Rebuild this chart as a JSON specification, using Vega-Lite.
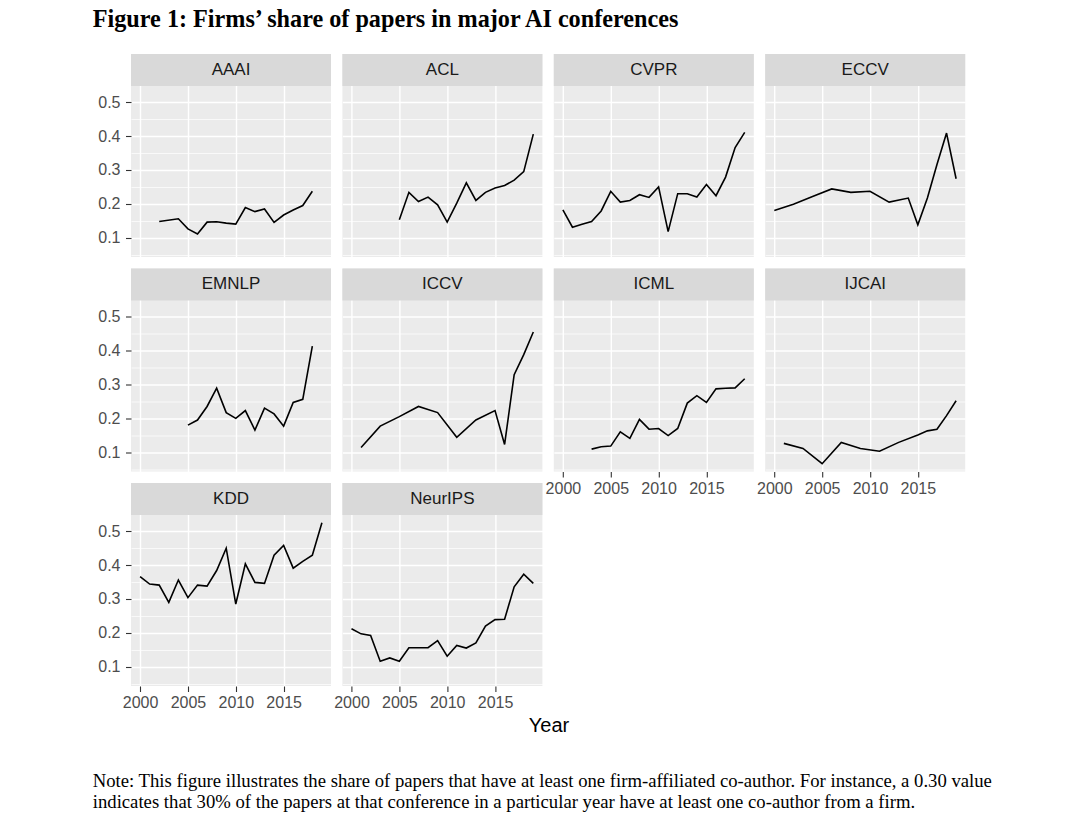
{
  "$schema": "https://vega.github.io/schema/vega-lite/v6.json",
  "autosize": {"type": "pad"},
  "padding": {"left": 92, "top": 7, "right": 5, "bottom": 5},
  "background": "#FFFFFF",
  "config": {
    "view": {"stroke": null, "fill": "#EBEBEB"}
  },
  "data": {"values": [
    {"conf":"AAAI","year":2002,"share":0.148},{"conf":"AAAI","year":2004,"share":0.156},{"conf":"AAAI","year":2005,"share":0.126},{"conf":"AAAI","year":2006,"share":0.111},{"conf":"AAAI","year":2007,"share":0.146},{"conf":"AAAI","year":2008,"share":0.147},{"conf":"AAAI","year":2009,"share":0.143},{"conf":"AAAI","year":2010,"share":0.140},{"conf":"AAAI","year":2011,"share":0.189},{"conf":"AAAI","year":2012,"share":0.177},{"conf":"AAAI","year":2013,"share":0.185},{"conf":"AAAI","year":2014,"share":0.145},{"conf":"AAAI","year":2015,"share":0.167},{"conf":"AAAI","year":2016,"share":0.182},{"conf":"AAAI","year":2017,"share":0.195},{"conf":"AAAI","year":2018,"share":0.237},
    {"conf":"ACL","year":2005,"share":0.153},{"conf":"ACL","year":2006,"share":0.234},{"conf":"ACL","year":2007,"share":0.207},{"conf":"ACL","year":2008,"share":0.220},{"conf":"ACL","year":2009,"share":0.197},{"conf":"ACL","year":2010,"share":0.146},{"conf":"ACL","year":2011,"share":0.202},{"conf":"ACL","year":2012,"share":0.262},{"conf":"ACL","year":2013,"share":0.210},{"conf":"ACL","year":2014,"share":0.234},{"conf":"ACL","year":2015,"share":0.247},{"conf":"ACL","year":2016,"share":0.254},{"conf":"ACL","year":2017,"share":0.270},{"conf":"ACL","year":2018,"share":0.295},{"conf":"ACL","year":2019,"share":0.406},
    {"conf":"CVPR","year":2000,"share":0.182},{"conf":"CVPR","year":2001,"share":0.131},{"conf":"CVPR","year":2002,"share":0.140},{"conf":"CVPR","year":2003,"share":0.148},{"conf":"CVPR","year":2004,"share":0.179},{"conf":"CVPR","year":2005,"share":0.237},{"conf":"CVPR","year":2006,"share":0.205},{"conf":"CVPR","year":2007,"share":0.210},{"conf":"CVPR","year":2008,"share":0.227},{"conf":"CVPR","year":2009,"share":0.219},{"conf":"CVPR","year":2010,"share":0.250},{"conf":"CVPR","year":2011,"share":0.118},{"conf":"CVPR","year":2012,"share":0.230},{"conf":"CVPR","year":2013,"share":0.230},{"conf":"CVPR","year":2014,"share":0.220},{"conf":"CVPR","year":2015,"share":0.257},{"conf":"CVPR","year":2016,"share":0.224},{"conf":"CVPR","year":2017,"share":0.279},{"conf":"CVPR","year":2018,"share":0.366},{"conf":"CVPR","year":2019,"share":0.411},
    {"conf":"ECCV","year":2000,"share":0.180},{"conf":"ECCV","year":2002,"share":0.199},{"conf":"ECCV","year":2004,"share":0.222},{"conf":"ECCV","year":2006,"share":0.244},{"conf":"ECCV","year":2008,"share":0.234},{"conf":"ECCV","year":2010,"share":0.237},{"conf":"ECCV","year":2012,"share":0.205},{"conf":"ECCV","year":2014,"share":0.217},{"conf":"ECCV","year":2015,"share":0.138},{"conf":"ECCV","year":2016,"share":0.217},{"conf":"ECCV","year":2017,"share":0.316},{"conf":"ECCV","year":2018,"share":0.409},{"conf":"ECCV","year":2019,"share":0.274},
    {"conf":"EMNLP","year":2005,"share":0.180},{"conf":"EMNLP","year":2006,"share":0.195},{"conf":"EMNLP","year":2007,"share":0.235},{"conf":"EMNLP","year":2008,"share":0.289},{"conf":"EMNLP","year":2009,"share":0.217},{"conf":"EMNLP","year":2010,"share":0.200},{"conf":"EMNLP","year":2011,"share":0.223},{"conf":"EMNLP","year":2012,"share":0.165},{"conf":"EMNLP","year":2013,"share":0.230},{"conf":"EMNLP","year":2014,"share":0.213},{"conf":"EMNLP","year":2015,"share":0.177},{"conf":"EMNLP","year":2016,"share":0.247},{"conf":"EMNLP","year":2017,"share":0.256},{"conf":"EMNLP","year":2018,"share":0.413},
    {"conf":"ICCV","year":2001,"share":0.114},{"conf":"ICCV","year":2003,"share":0.177},{"conf":"ICCV","year":2005,"share":0.205},{"conf":"ICCV","year":2007,"share":0.235},{"conf":"ICCV","year":2009,"share":0.217},{"conf":"ICCV","year":2011,"share":0.144},{"conf":"ICCV","year":2013,"share":0.195},{"conf":"ICCV","year":2015,"share":0.223},{"conf":"ICCV","year":2016,"share":0.123},{"conf":"ICCV","year":2017,"share":0.329},{"conf":"ICCV","year":2018,"share":0.388},{"conf":"ICCV","year":2019,"share":0.455},
    {"conf":"ICML","year":2003,"share":0.109},{"conf":"ICML","year":2004,"share":0.116},{"conf":"ICML","year":2005,"share":0.118},{"conf":"ICML","year":2006,"share":0.160},{"conf":"ICML","year":2007,"share":0.141},{"conf":"ICML","year":2008,"share":0.197},{"conf":"ICML","year":2009,"share":0.168},{"conf":"ICML","year":2010,"share":0.170},{"conf":"ICML","year":2011,"share":0.149},{"conf":"ICML","year":2012,"share":0.170},{"conf":"ICML","year":2013,"share":0.245},{"conf":"ICML","year":2014,"share":0.267},{"conf":"ICML","year":2015,"share":0.247},{"conf":"ICML","year":2016,"share":0.287},{"conf":"ICML","year":2017,"share":0.289},{"conf":"ICML","year":2018,"share":0.290},{"conf":"ICML","year":2019,"share":0.317},
    {"conf":"IJCAI","year":2001,"share":0.126},{"conf":"IJCAI","year":2003,"share":0.111},{"conf":"IJCAI","year":2005,"share":0.066},{"conf":"IJCAI","year":2007,"share":0.129},{"conf":"IJCAI","year":2009,"share":0.111},{"conf":"IJCAI","year":2011,"share":0.103},{"conf":"IJCAI","year":2013,"share":0.129},{"conf":"IJCAI","year":2015,"share":0.151},{"conf":"IJCAI","year":2016,"share":0.163},{"conf":"IJCAI","year":2017,"share":0.168},{"conf":"IJCAI","year":2018,"share":0.208},{"conf":"IJCAI","year":2019,"share":0.252},
    {"conf":"KDD","year":2000,"share":0.366},{"conf":"KDD","year":2001,"share":0.344},{"conf":"KDD","year":2002,"share":0.341},{"conf":"KDD","year":2003,"share":0.290},{"conf":"KDD","year":2004,"share":0.356},{"conf":"KDD","year":2005,"share":0.304},{"conf":"KDD","year":2006,"share":0.341},{"conf":"KDD","year":2007,"share":0.338},{"conf":"KDD","year":2008,"share":0.384},{"conf":"KDD","year":2009,"share":0.450},{"conf":"KDD","year":2010,"share":0.285},{"conf":"KDD","year":2011,"share":0.404},{"conf":"KDD","year":2012,"share":0.349},{"conf":"KDD","year":2013,"share":0.346},{"conf":"KDD","year":2014,"share":0.429},{"conf":"KDD","year":2015,"share":0.458},{"conf":"KDD","year":2016,"share":0.391},{"conf":"KDD","year":2017,"share":0.411},{"conf":"KDD","year":2018,"share":0.429},{"conf":"KDD","year":2019,"share":0.525},
    {"conf":"NeurIPS","year":2000,"share":0.212},{"conf":"NeurIPS","year":2001,"share":0.197},{"conf":"NeurIPS","year":2002,"share":0.192},{"conf":"NeurIPS","year":2003,"share":0.116},{"conf":"NeurIPS","year":2004,"share":0.126},{"conf":"NeurIPS","year":2005,"share":0.116},{"conf":"NeurIPS","year":2006,"share":0.156},{"conf":"NeurIPS","year":2007,"share":0.156},{"conf":"NeurIPS","year":2008,"share":0.156},{"conf":"NeurIPS","year":2009,"share":0.177},{"conf":"NeurIPS","year":2010,"share":0.131},{"conf":"NeurIPS","year":2011,"share":0.163},{"conf":"NeurIPS","year":2012,"share":0.155},{"conf":"NeurIPS","year":2013,"share":0.170},{"conf":"NeurIPS","year":2014,"share":0.220},{"conf":"NeurIPS","year":2015,"share":0.239},{"conf":"NeurIPS","year":2016,"share":0.240},{"conf":"NeurIPS","year":2017,"share":0.336},{"conf":"NeurIPS","year":2018,"share":0.373},{"conf":"NeurIPS","year":2019,"share":0.346}
  ]},
  "title": {"text": "Figure 1: Firms’ share of papers in major AI conferences", "anchor": "start", "frame": "bounds", "font": "Liberation Serif", "fontSize": 24.2, "fontWeight": "bold", "color": "#000000", "offset": 22},
  "vconcat": [
    {
      "title": {"text": ["Note: This figure illustrates the share of papers that have at least one firm-affiliated co-author. For instance, a 0.30 value", "indicates that 30% of the papers at that conference in a particular year have at least one co-author from a firm."], "orient": "bottom", "anchor": "start", "frame": "bounds", "font": "Liberation Serif", "fontSize": 18.7, "fontWeight": "normal", "color": "#000000", "lineHeight": 21, "offset": 36, "dx": -5},
      "vconcat": [
        {
          "title": {"text": "Year", "orient": "bottom", "anchor": "middle", "frame": "bounds", "font": "Liberation Sans", "fontSize": 20, "fontWeight": "normal", "color": "#000000", "offset": 5, "dx": 17.5},
          "columns": 4,
          "spacing": {"row": 11.5, "column": 11.4},
          "bounds": "flush",
          "align": "all",
          "concat": [
            {"width": 200, "height": 203, "transform": [{"filter": "datum.conf === 'AAAI'"}], "resolve": {"axis": {"y": "independent"}}, "layer": [
              {"mark": {"type": "line", "color": "#000000", "strokeWidth": 1.6}, "encoding": {
                "x": {"field": "year", "type": "quantitative", "scale": {"domain": [1999.05, 2019.95], "nice": false, "zero": false}, "axis": {"orient": "bottom", "values": [2000, 2002.5, 2005, 2007.5, 2010, 2012.5, 2015, 2017.5], "grid": true, "gridColor": "#FFFFFF", "gridWidth": {"condition": {"test": "datum.value % 5 === 0", "value": 1.4}, "value": 0.7}, "domain": false, "ticks": false, "labels": false, "title": null}},
                "y": {"field": "share", "type": "quantitative", "scale": {"domain": [0.043, 0.6425], "nice": false, "zero": false}, "axis": {"orient": "left", "values": [0.05, 0.1, 0.15, 0.2, 0.25, 0.3, 0.35, 0.4, 0.45, 0.5], "format": ".1f", "labelExpr": "indexof([0.1, 0.2, 0.3, 0.4, 0.5], datum.value) >= 0 ? datum.label : ''", "grid": true, "gridColor": "#FFFFFF", "gridWidth": {"condition": {"test": "indexof([0.1, 0.2, 0.3, 0.4, 0.5], datum.value) >= 0", "value": 1.4}, "value": 0.7}, "domain": false, "ticks": true, "tickColor": "#333333", "tickSize": 5.5, "tickWidth": 1.1, "tickOpacity": {"condition": {"test": "indexof([0.1, 0.2, 0.3, 0.4, 0.5], datum.value) >= 0", "value": 1}, "value": 0}, "labels": true, "labelFont": "Liberation Sans", "labelFontSize": 16, "labelColor": "#4D4D4D", "labelPadding": 5.5, "labelOverlap": false, "labelFlush": false, "labelBound": false, "title": null}}
              }},
              {"transform": [{"aggregate": [{"op": "count", "as": "n"}], "groupby": ["conf"]}], "mark": {"type": "rect", "fill": "#D9D9D9", "stroke": null}, "encoding": {"x": {"datum": 1999.05, "type": "quantitative"}, "x2": {"datum": 2019.95}, "y": {"datum": 0.548, "type": "quantitative", "axis": {"orient": "left", "grid": false, "labels": false, "ticks": false, "domain": false, "title": null}}, "y2": {"datum": 0.6425}}},
              {"transform": [{"aggregate": [{"op": "count", "as": "n"}], "groupby": ["conf"]}], "mark": {"type": "text", "font": "Liberation Sans", "fontSize": 17, "color": "#1A1A1A", "baseline": "middle", "align": "center"}, "encoding": {"x": {"datum": 2009.5, "type": "quantitative"}, "y": {"datum": 0.5953, "type": "quantitative", "axis": {"orient": "left", "grid": false, "labels": false, "ticks": false, "domain": false, "title": null}}, "text": {"field": "conf", "type": "nominal"}}}
            ]},
            {"width": 200, "height": 203, "transform": [{"filter": "datum.conf === 'ACL'"}], "resolve": {"axis": {"y": "independent"}}, "layer": [
              {"mark": {"type": "line", "color": "#000000", "strokeWidth": 1.6}, "encoding": {
                "x": {"field": "year", "type": "quantitative", "scale": {"domain": [1999.05, 2019.95], "nice": false, "zero": false}, "axis": {"orient": "bottom", "values": [2000, 2002.5, 2005, 2007.5, 2010, 2012.5, 2015, 2017.5], "grid": true, "gridColor": "#FFFFFF", "gridWidth": {"condition": {"test": "datum.value % 5 === 0", "value": 1.4}, "value": 0.7}, "domain": false, "ticks": false, "labels": false, "title": null}},
                "y": {"field": "share", "type": "quantitative", "scale": {"domain": [0.043, 0.6425], "nice": false, "zero": false}, "axis": {"orient": "left", "values": [0.05, 0.1, 0.15, 0.2, 0.25, 0.3, 0.35, 0.4, 0.45, 0.5], "grid": true, "gridColor": "#FFFFFF", "gridWidth": {"condition": {"test": "indexof([0.1, 0.2, 0.3, 0.4, 0.5], datum.value) >= 0", "value": 1.4}, "value": 0.7}, "domain": false, "ticks": false, "labels": false, "title": null}}
              }},
              {"transform": [{"aggregate": [{"op": "count", "as": "n"}], "groupby": ["conf"]}], "mark": {"type": "rect", "fill": "#D9D9D9", "stroke": null}, "encoding": {"x": {"datum": 1999.05, "type": "quantitative"}, "x2": {"datum": 2019.95}, "y": {"datum": 0.548, "type": "quantitative", "axis": {"orient": "left", "grid": false, "labels": false, "ticks": false, "domain": false, "title": null}}, "y2": {"datum": 0.6425}}},
              {"transform": [{"aggregate": [{"op": "count", "as": "n"}], "groupby": ["conf"]}], "mark": {"type": "text", "font": "Liberation Sans", "fontSize": 17, "color": "#1A1A1A", "baseline": "middle", "align": "center"}, "encoding": {"x": {"datum": 2009.5, "type": "quantitative"}, "y": {"datum": 0.5953, "type": "quantitative", "axis": {"orient": "left", "grid": false, "labels": false, "ticks": false, "domain": false, "title": null}}, "text": {"field": "conf", "type": "nominal"}}}
            ]},
            {"width": 200, "height": 203, "transform": [{"filter": "datum.conf === 'CVPR'"}], "resolve": {"axis": {"y": "independent"}}, "layer": [
              {"mark": {"type": "line", "color": "#000000", "strokeWidth": 1.6}, "encoding": {
                "x": {"field": "year", "type": "quantitative", "scale": {"domain": [1999.05, 2019.95], "nice": false, "zero": false}, "axis": {"orient": "bottom", "values": [2000, 2002.5, 2005, 2007.5, 2010, 2012.5, 2015, 2017.5], "grid": true, "gridColor": "#FFFFFF", "gridWidth": {"condition": {"test": "datum.value % 5 === 0", "value": 1.4}, "value": 0.7}, "domain": false, "ticks": false, "labels": false, "title": null}},
                "y": {"field": "share", "type": "quantitative", "scale": {"domain": [0.043, 0.6425], "nice": false, "zero": false}, "axis": {"orient": "left", "values": [0.05, 0.1, 0.15, 0.2, 0.25, 0.3, 0.35, 0.4, 0.45, 0.5], "grid": true, "gridColor": "#FFFFFF", "gridWidth": {"condition": {"test": "indexof([0.1, 0.2, 0.3, 0.4, 0.5], datum.value) >= 0", "value": 1.4}, "value": 0.7}, "domain": false, "ticks": false, "labels": false, "title": null}}
              }},
              {"transform": [{"aggregate": [{"op": "count", "as": "n"}], "groupby": ["conf"]}], "mark": {"type": "rect", "fill": "#D9D9D9", "stroke": null}, "encoding": {"x": {"datum": 1999.05, "type": "quantitative"}, "x2": {"datum": 2019.95}, "y": {"datum": 0.548, "type": "quantitative", "axis": {"orient": "left", "grid": false, "labels": false, "ticks": false, "domain": false, "title": null}}, "y2": {"datum": 0.6425}}},
              {"transform": [{"aggregate": [{"op": "count", "as": "n"}], "groupby": ["conf"]}], "mark": {"type": "text", "font": "Liberation Sans", "fontSize": 17, "color": "#1A1A1A", "baseline": "middle", "align": "center"}, "encoding": {"x": {"datum": 2009.5, "type": "quantitative"}, "y": {"datum": 0.5953, "type": "quantitative", "axis": {"orient": "left", "grid": false, "labels": false, "ticks": false, "domain": false, "title": null}}, "text": {"field": "conf", "type": "nominal"}}}
            ]},
            {"width": 200, "height": 203, "transform": [{"filter": "datum.conf === 'ECCV'"}], "resolve": {"axis": {"y": "independent"}}, "layer": [
              {"mark": {"type": "line", "color": "#000000", "strokeWidth": 1.6}, "encoding": {
                "x": {"field": "year", "type": "quantitative", "scale": {"domain": [1999.05, 2019.95], "nice": false, "zero": false}, "axis": {"orient": "bottom", "values": [2000, 2002.5, 2005, 2007.5, 2010, 2012.5, 2015, 2017.5], "grid": true, "gridColor": "#FFFFFF", "gridWidth": {"condition": {"test": "datum.value % 5 === 0", "value": 1.4}, "value": 0.7}, "domain": false, "ticks": false, "labels": false, "title": null}},
                "y": {"field": "share", "type": "quantitative", "scale": {"domain": [0.043, 0.6425], "nice": false, "zero": false}, "axis": {"orient": "left", "values": [0.05, 0.1, 0.15, 0.2, 0.25, 0.3, 0.35, 0.4, 0.45, 0.5], "grid": true, "gridColor": "#FFFFFF", "gridWidth": {"condition": {"test": "indexof([0.1, 0.2, 0.3, 0.4, 0.5], datum.value) >= 0", "value": 1.4}, "value": 0.7}, "domain": false, "ticks": false, "labels": false, "title": null}}
              }},
              {"transform": [{"aggregate": [{"op": "count", "as": "n"}], "groupby": ["conf"]}], "mark": {"type": "rect", "fill": "#D9D9D9", "stroke": null}, "encoding": {"x": {"datum": 1999.05, "type": "quantitative"}, "x2": {"datum": 2019.95}, "y": {"datum": 0.548, "type": "quantitative", "axis": {"orient": "left", "grid": false, "labels": false, "ticks": false, "domain": false, "title": null}}, "y2": {"datum": 0.6425}}},
              {"transform": [{"aggregate": [{"op": "count", "as": "n"}], "groupby": ["conf"]}], "mark": {"type": "text", "font": "Liberation Sans", "fontSize": 17, "color": "#1A1A1A", "baseline": "middle", "align": "center"}, "encoding": {"x": {"datum": 2009.5, "type": "quantitative"}, "y": {"datum": 0.5953, "type": "quantitative", "axis": {"orient": "left", "grid": false, "labels": false, "ticks": false, "domain": false, "title": null}}, "text": {"field": "conf", "type": "nominal"}}}
            ]},
            {"width": 200, "height": 203, "transform": [{"filter": "datum.conf === 'EMNLP'"}], "resolve": {"axis": {"y": "independent"}}, "layer": [
              {"mark": {"type": "line", "color": "#000000", "strokeWidth": 1.6}, "encoding": {
                "x": {"field": "year", "type": "quantitative", "scale": {"domain": [1999.05, 2019.95], "nice": false, "zero": false}, "axis": {"orient": "bottom", "values": [2000, 2002.5, 2005, 2007.5, 2010, 2012.5, 2015, 2017.5], "grid": true, "gridColor": "#FFFFFF", "gridWidth": {"condition": {"test": "datum.value % 5 === 0", "value": 1.4}, "value": 0.7}, "domain": false, "ticks": false, "labels": false, "title": null}},
                "y": {"field": "share", "type": "quantitative", "scale": {"domain": [0.043, 0.6425], "nice": false, "zero": false}, "axis": {"orient": "left", "values": [0.05, 0.1, 0.15, 0.2, 0.25, 0.3, 0.35, 0.4, 0.45, 0.5], "format": ".1f", "labelExpr": "indexof([0.1, 0.2, 0.3, 0.4, 0.5], datum.value) >= 0 ? datum.label : ''", "grid": true, "gridColor": "#FFFFFF", "gridWidth": {"condition": {"test": "indexof([0.1, 0.2, 0.3, 0.4, 0.5], datum.value) >= 0", "value": 1.4}, "value": 0.7}, "domain": false, "ticks": true, "tickColor": "#333333", "tickSize": 5.5, "tickWidth": 1.1, "tickOpacity": {"condition": {"test": "indexof([0.1, 0.2, 0.3, 0.4, 0.5], datum.value) >= 0", "value": 1}, "value": 0}, "labels": true, "labelFont": "Liberation Sans", "labelFontSize": 16, "labelColor": "#4D4D4D", "labelPadding": 5.5, "labelOverlap": false, "labelFlush": false, "labelBound": false, "title": null}}
              }},
              {"transform": [{"aggregate": [{"op": "count", "as": "n"}], "groupby": ["conf"]}], "mark": {"type": "rect", "fill": "#D9D9D9", "stroke": null}, "encoding": {"x": {"datum": 1999.05, "type": "quantitative"}, "x2": {"datum": 2019.95}, "y": {"datum": 0.548, "type": "quantitative", "axis": {"orient": "left", "grid": false, "labels": false, "ticks": false, "domain": false, "title": null}}, "y2": {"datum": 0.6425}}},
              {"transform": [{"aggregate": [{"op": "count", "as": "n"}], "groupby": ["conf"]}], "mark": {"type": "text", "font": "Liberation Sans", "fontSize": 17, "color": "#1A1A1A", "baseline": "middle", "align": "center"}, "encoding": {"x": {"datum": 2009.5, "type": "quantitative"}, "y": {"datum": 0.5953, "type": "quantitative", "axis": {"orient": "left", "grid": false, "labels": false, "ticks": false, "domain": false, "title": null}}, "text": {"field": "conf", "type": "nominal"}}}
            ]},
            {"width": 200, "height": 203, "transform": [{"filter": "datum.conf === 'ICCV'"}], "resolve": {"axis": {"y": "independent"}}, "layer": [
              {"mark": {"type": "line", "color": "#000000", "strokeWidth": 1.6}, "encoding": {
                "x": {"field": "year", "type": "quantitative", "scale": {"domain": [1999.05, 2019.95], "nice": false, "zero": false}, "axis": {"orient": "bottom", "values": [2000, 2002.5, 2005, 2007.5, 2010, 2012.5, 2015, 2017.5], "grid": true, "gridColor": "#FFFFFF", "gridWidth": {"condition": {"test": "datum.value % 5 === 0", "value": 1.4}, "value": 0.7}, "domain": false, "ticks": false, "labels": false, "title": null}},
                "y": {"field": "share", "type": "quantitative", "scale": {"domain": [0.043, 0.6425], "nice": false, "zero": false}, "axis": {"orient": "left", "values": [0.05, 0.1, 0.15, 0.2, 0.25, 0.3, 0.35, 0.4, 0.45, 0.5], "grid": true, "gridColor": "#FFFFFF", "gridWidth": {"condition": {"test": "indexof([0.1, 0.2, 0.3, 0.4, 0.5], datum.value) >= 0", "value": 1.4}, "value": 0.7}, "domain": false, "ticks": false, "labels": false, "title": null}}
              }},
              {"transform": [{"aggregate": [{"op": "count", "as": "n"}], "groupby": ["conf"]}], "mark": {"type": "rect", "fill": "#D9D9D9", "stroke": null}, "encoding": {"x": {"datum": 1999.05, "type": "quantitative"}, "x2": {"datum": 2019.95}, "y": {"datum": 0.548, "type": "quantitative", "axis": {"orient": "left", "grid": false, "labels": false, "ticks": false, "domain": false, "title": null}}, "y2": {"datum": 0.6425}}},
              {"transform": [{"aggregate": [{"op": "count", "as": "n"}], "groupby": ["conf"]}], "mark": {"type": "text", "font": "Liberation Sans", "fontSize": 17, "color": "#1A1A1A", "baseline": "middle", "align": "center"}, "encoding": {"x": {"datum": 2009.5, "type": "quantitative"}, "y": {"datum": 0.5953, "type": "quantitative", "axis": {"orient": "left", "grid": false, "labels": false, "ticks": false, "domain": false, "title": null}}, "text": {"field": "conf", "type": "nominal"}}}
            ]},
            {"width": 200, "height": 203, "transform": [{"filter": "datum.conf === 'ICML'"}], "resolve": {"axis": {"y": "independent"}}, "layer": [
              {"mark": {"type": "line", "color": "#000000", "strokeWidth": 1.6}, "encoding": {
                "x": {"field": "year", "type": "quantitative", "scale": {"domain": [1999.05, 2019.95], "nice": false, "zero": false}, "axis": {"orient": "bottom", "values": [2000, 2002.5, 2005, 2007.5, 2010, 2012.5, 2015, 2017.5], "format": "d", "labelExpr": "datum.value % 5 === 0 ? datum.label : ''", "grid": true, "gridColor": "#FFFFFF", "gridWidth": {"condition": {"test": "datum.value % 5 === 0", "value": 1.4}, "value": 0.7}, "domain": false, "ticks": true, "tickColor": "#333333", "tickSize": 5.5, "tickWidth": 1.1, "tickOpacity": {"condition": {"test": "datum.value % 5 === 0", "value": 1}, "value": 0}, "labelFont": "Liberation Sans", "labelFontSize": 16, "labelColor": "#4D4D4D", "labelPadding": 3, "labelOverlap": false, "labelFlush": false, "labelBound": false, "title": null}},
                "y": {"field": "share", "type": "quantitative", "scale": {"domain": [0.043, 0.6425], "nice": false, "zero": false}, "axis": {"orient": "left", "values": [0.05, 0.1, 0.15, 0.2, 0.25, 0.3, 0.35, 0.4, 0.45, 0.5], "grid": true, "gridColor": "#FFFFFF", "gridWidth": {"condition": {"test": "indexof([0.1, 0.2, 0.3, 0.4, 0.5], datum.value) >= 0", "value": 1.4}, "value": 0.7}, "domain": false, "ticks": false, "labels": false, "title": null}}
              }},
              {"transform": [{"aggregate": [{"op": "count", "as": "n"}], "groupby": ["conf"]}], "mark": {"type": "rect", "fill": "#D9D9D9", "stroke": null}, "encoding": {"x": {"datum": 1999.05, "type": "quantitative"}, "x2": {"datum": 2019.95}, "y": {"datum": 0.548, "type": "quantitative", "axis": {"orient": "left", "grid": false, "labels": false, "ticks": false, "domain": false, "title": null}}, "y2": {"datum": 0.6425}}},
              {"transform": [{"aggregate": [{"op": "count", "as": "n"}], "groupby": ["conf"]}], "mark": {"type": "text", "font": "Liberation Sans", "fontSize": 17, "color": "#1A1A1A", "baseline": "middle", "align": "center"}, "encoding": {"x": {"datum": 2009.5, "type": "quantitative"}, "y": {"datum": 0.5953, "type": "quantitative", "axis": {"orient": "left", "grid": false, "labels": false, "ticks": false, "domain": false, "title": null}}, "text": {"field": "conf", "type": "nominal"}}}
            ]},
            {"width": 200, "height": 203, "transform": [{"filter": "datum.conf === 'IJCAI'"}], "resolve": {"axis": {"y": "independent"}}, "layer": [
              {"mark": {"type": "line", "color": "#000000", "strokeWidth": 1.6}, "encoding": {
                "x": {"field": "year", "type": "quantitative", "scale": {"domain": [1999.05, 2019.95], "nice": false, "zero": false}, "axis": {"orient": "bottom", "values": [2000, 2002.5, 2005, 2007.5, 2010, 2012.5, 2015, 2017.5], "format": "d", "labelExpr": "datum.value % 5 === 0 ? datum.label : ''", "grid": true, "gridColor": "#FFFFFF", "gridWidth": {"condition": {"test": "datum.value % 5 === 0", "value": 1.4}, "value": 0.7}, "domain": false, "ticks": true, "tickColor": "#333333", "tickSize": 5.5, "tickWidth": 1.1, "tickOpacity": {"condition": {"test": "datum.value % 5 === 0", "value": 1}, "value": 0}, "labelFont": "Liberation Sans", "labelFontSize": 16, "labelColor": "#4D4D4D", "labelPadding": 3, "labelOverlap": false, "labelFlush": false, "labelBound": false, "title": null}},
                "y": {"field": "share", "type": "quantitative", "scale": {"domain": [0.043, 0.6425], "nice": false, "zero": false}, "axis": {"orient": "left", "values": [0.05, 0.1, 0.15, 0.2, 0.25, 0.3, 0.35, 0.4, 0.45, 0.5], "grid": true, "gridColor": "#FFFFFF", "gridWidth": {"condition": {"test": "indexof([0.1, 0.2, 0.3, 0.4, 0.5], datum.value) >= 0", "value": 1.4}, "value": 0.7}, "domain": false, "ticks": false, "labels": false, "title": null}}
              }},
              {"transform": [{"aggregate": [{"op": "count", "as": "n"}], "groupby": ["conf"]}], "mark": {"type": "rect", "fill": "#D9D9D9", "stroke": null}, "encoding": {"x": {"datum": 1999.05, "type": "quantitative"}, "x2": {"datum": 2019.95}, "y": {"datum": 0.548, "type": "quantitative", "axis": {"orient": "left", "grid": false, "labels": false, "ticks": false, "domain": false, "title": null}}, "y2": {"datum": 0.6425}}},
              {"transform": [{"aggregate": [{"op": "count", "as": "n"}], "groupby": ["conf"]}], "mark": {"type": "text", "font": "Liberation Sans", "fontSize": 17, "color": "#1A1A1A", "baseline": "middle", "align": "center"}, "encoding": {"x": {"datum": 2009.5, "type": "quantitative"}, "y": {"datum": 0.5953, "type": "quantitative", "axis": {"orient": "left", "grid": false, "labels": false, "ticks": false, "domain": false, "title": null}}, "text": {"field": "conf", "type": "nominal"}}}
            ]},
            {"width": 200, "height": 203, "transform": [{"filter": "datum.conf === 'KDD'"}], "resolve": {"axis": {"y": "independent"}}, "layer": [
              {"mark": {"type": "line", "color": "#000000", "strokeWidth": 1.6}, "encoding": {
                "x": {"field": "year", "type": "quantitative", "scale": {"domain": [1999.05, 2019.95], "nice": false, "zero": false}, "axis": {"orient": "bottom", "values": [2000, 2002.5, 2005, 2007.5, 2010, 2012.5, 2015, 2017.5], "format": "d", "labelExpr": "datum.value % 5 === 0 ? datum.label : ''", "grid": true, "gridColor": "#FFFFFF", "gridWidth": {"condition": {"test": "datum.value % 5 === 0", "value": 1.4}, "value": 0.7}, "domain": false, "ticks": true, "tickColor": "#333333", "tickSize": 5.5, "tickWidth": 1.1, "tickOpacity": {"condition": {"test": "datum.value % 5 === 0", "value": 1}, "value": 0}, "labelFont": "Liberation Sans", "labelFontSize": 16, "labelColor": "#4D4D4D", "labelPadding": 3, "labelOverlap": false, "labelFlush": false, "labelBound": false, "title": null}},
                "y": {"field": "share", "type": "quantitative", "scale": {"domain": [0.043, 0.6425], "nice": false, "zero": false}, "axis": {"orient": "left", "values": [0.05, 0.1, 0.15, 0.2, 0.25, 0.3, 0.35, 0.4, 0.45, 0.5], "format": ".1f", "labelExpr": "indexof([0.1, 0.2, 0.3, 0.4, 0.5], datum.value) >= 0 ? datum.label : ''", "grid": true, "gridColor": "#FFFFFF", "gridWidth": {"condition": {"test": "indexof([0.1, 0.2, 0.3, 0.4, 0.5], datum.value) >= 0", "value": 1.4}, "value": 0.7}, "domain": false, "ticks": true, "tickColor": "#333333", "tickSize": 5.5, "tickWidth": 1.1, "tickOpacity": {"condition": {"test": "indexof([0.1, 0.2, 0.3, 0.4, 0.5], datum.value) >= 0", "value": 1}, "value": 0}, "labels": true, "labelFont": "Liberation Sans", "labelFontSize": 16, "labelColor": "#4D4D4D", "labelPadding": 5.5, "labelOverlap": false, "labelFlush": false, "labelBound": false, "title": null}}
              }},
              {"transform": [{"aggregate": [{"op": "count", "as": "n"}], "groupby": ["conf"]}], "mark": {"type": "rect", "fill": "#D9D9D9", "stroke": null}, "encoding": {"x": {"datum": 1999.05, "type": "quantitative"}, "x2": {"datum": 2019.95}, "y": {"datum": 0.548, "type": "quantitative", "axis": {"orient": "left", "grid": false, "labels": false, "ticks": false, "domain": false, "title": null}}, "y2": {"datum": 0.6425}}},
              {"transform": [{"aggregate": [{"op": "count", "as": "n"}], "groupby": ["conf"]}], "mark": {"type": "text", "font": "Liberation Sans", "fontSize": 17, "color": "#1A1A1A", "baseline": "middle", "align": "center"}, "encoding": {"x": {"datum": 2009.5, "type": "quantitative"}, "y": {"datum": 0.5953, "type": "quantitative", "axis": {"orient": "left", "grid": false, "labels": false, "ticks": false, "domain": false, "title": null}}, "text": {"field": "conf", "type": "nominal"}}}
            ]},
            {"width": 200, "height": 203, "transform": [{"filter": "datum.conf === 'NeurIPS'"}], "resolve": {"axis": {"y": "independent"}}, "layer": [
              {"mark": {"type": "line", "color": "#000000", "strokeWidth": 1.6}, "encoding": {
                "x": {"field": "year", "type": "quantitative", "scale": {"domain": [1999.05, 2019.95], "nice": false, "zero": false}, "axis": {"orient": "bottom", "values": [2000, 2002.5, 2005, 2007.5, 2010, 2012.5, 2015, 2017.5], "format": "d", "labelExpr": "datum.value % 5 === 0 ? datum.label : ''", "grid": true, "gridColor": "#FFFFFF", "gridWidth": {"condition": {"test": "datum.value % 5 === 0", "value": 1.4}, "value": 0.7}, "domain": false, "ticks": true, "tickColor": "#333333", "tickSize": 5.5, "tickWidth": 1.1, "tickOpacity": {"condition": {"test": "datum.value % 5 === 0", "value": 1}, "value": 0}, "labelFont": "Liberation Sans", "labelFontSize": 16, "labelColor": "#4D4D4D", "labelPadding": 3, "labelOverlap": false, "labelFlush": false, "labelBound": false, "title": null}},
                "y": {"field": "share", "type": "quantitative", "scale": {"domain": [0.043, 0.6425], "nice": false, "zero": false}, "axis": {"orient": "left", "values": [0.05, 0.1, 0.15, 0.2, 0.25, 0.3, 0.35, 0.4, 0.45, 0.5], "grid": true, "gridColor": "#FFFFFF", "gridWidth": {"condition": {"test": "indexof([0.1, 0.2, 0.3, 0.4, 0.5], datum.value) >= 0", "value": 1.4}, "value": 0.7}, "domain": false, "ticks": false, "labels": false, "title": null}}
              }},
              {"transform": [{"aggregate": [{"op": "count", "as": "n"}], "groupby": ["conf"]}], "mark": {"type": "rect", "fill": "#D9D9D9", "stroke": null}, "encoding": {"x": {"datum": 1999.05, "type": "quantitative"}, "x2": {"datum": 2019.95}, "y": {"datum": 0.548, "type": "quantitative", "axis": {"orient": "left", "grid": false, "labels": false, "ticks": false, "domain": false, "title": null}}, "y2": {"datum": 0.6425}}},
              {"transform": [{"aggregate": [{"op": "count", "as": "n"}], "groupby": ["conf"]}], "mark": {"type": "text", "font": "Liberation Sans", "fontSize": 17, "color": "#1A1A1A", "baseline": "middle", "align": "center"}, "encoding": {"x": {"datum": 2009.5, "type": "quantitative"}, "y": {"datum": 0.5953, "type": "quantitative", "axis": {"orient": "left", "grid": false, "labels": false, "ticks": false, "domain": false, "title": null}}, "text": {"field": "conf", "type": "nominal"}}}
            ]}
          ]
        }
      ]
    }
  ]
}
